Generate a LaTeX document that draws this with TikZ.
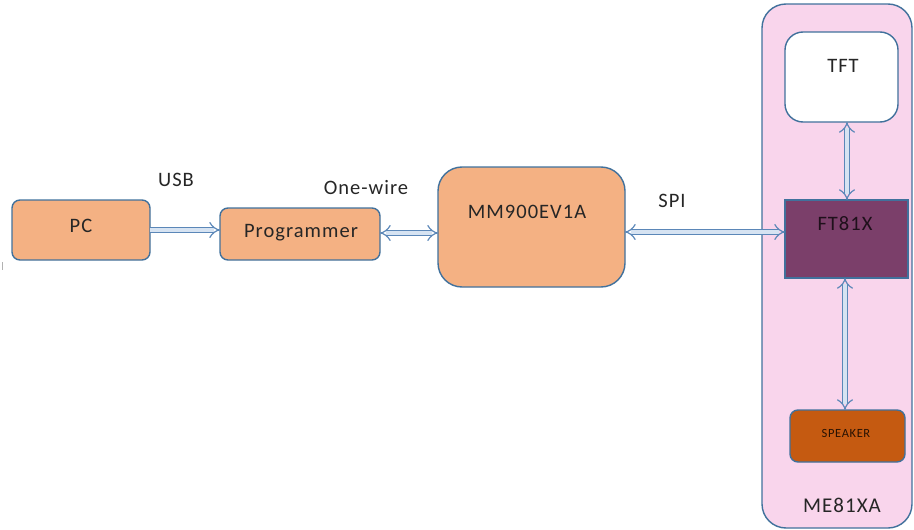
\documentclass[tikz,border=0pt]{standalone}
\usepackage{fontspec}
\setmainfont{Carlito}[LetterSpace=5]
\usetikzlibrary{arrows.meta}
\definecolor{bord}{HTML}{41719C}
\definecolor{orng}{HTML}{F4B183}
\definecolor{pinkbg}{HTML}{F9D5EC}
\definecolor{ftfill}{HTML}{7B3F6A}
\definecolor{spk}{HTML}{C55A11}
\definecolor{arrfill}{HTML}{D6E3F2}
\definecolor{arrbord}{HTML}{5B87B8}
\tikzset{
  blk/.style={draw=bord, line width=1.4pt, fill=orng, rounded corners=#1},
  blk/.default=8pt,
  lbl/.style={font=\fontsize{20.5}{23}\selectfont, text=black!85},
  link/.style={draw=arrbord, line width=1.2pt, double=arrfill, double distance=4.4pt},
}
\begin{document}
\begin{tikzpicture}[x=1pt,y=-1pt]
\useasboundingbox (0,0) rectangle (914,530);
% container
\draw[draw=bord, line width=1.4pt, fill=pinkbg, rounded corners=24pt] (762,4) rectangle (912,528);
\node[lbl, font=\fontsize{21}{24}\selectfont] (me) at (842,505) {ME81XA};
% blocks
\draw[blk] (12,200) rectangle (150,260);
\node[lbl] (pc) at (81,226) {PC};
\coordinate (pcE) at (150,230);
\draw[blk] (220,208) rectangle (380,260);
\node[lbl] (prog) at (301,233) {Programmer};
\coordinate (progW) at (220,230);
\coordinate (progE) at (380,233);
\draw[blk=24pt] (438,167) rectangle (625,287);
\node[lbl] (mm) at (527,212) {MM900EV1A};
\coordinate (mmW) at (438,233);
\coordinate (mmE) at (625,232);
\draw[draw=bord, line width=1.4pt, fill=white, rounded corners=18pt] (785,32) rectangle (898,122);
\node[lbl] (tft) at (843,66) {TFT};
\coordinate (tftS) at (847,122);
\draw[draw=bord, line width=1.4pt, fill=ftfill] (785,200) rectangle (908,278);
\node[lbl, text={black!75!ftfill}] (ft) at (845,224) {FT81X};
\coordinate (ftW) at (785,232);
\coordinate (ftN) at (847,200);
\coordinate (ftS) at (845,278);
\draw[draw=bord, line width=1.4pt, fill=spk, rounded corners=8pt] (790,410) rectangle (905,462);
\node[font=\fontsize{12.5}{14}\selectfont, text=black!80!spk] (spkr) at (846,433) {SPEAKER};
\coordinate (spkN) at (845,410);
% labels
\node[lbl] (usb) at (176,180) {USB};
\node[lbl] (ow) at (366,188) {One-wire};
\node[lbl] (spi) at (672,201) {SPI};
% links
\draw[link, -{Implies}] (pcE) -- (progW);
\draw[link, {Implies}-{Implies}] (progE) -- (mmW);
\draw[link, {Implies}-{Implies}] (mmE) -- (ftW);
\draw[link, {Implies}-{Implies}] (tftS) -- (ftN);
\draw[link, {Implies}-{Implies}] (ftS) -- (spkN);
% small mark at left edge
\draw[gray!60, line width=0.6pt] (2,262) -- (2,270);
\end{tikzpicture}
\end{document}
